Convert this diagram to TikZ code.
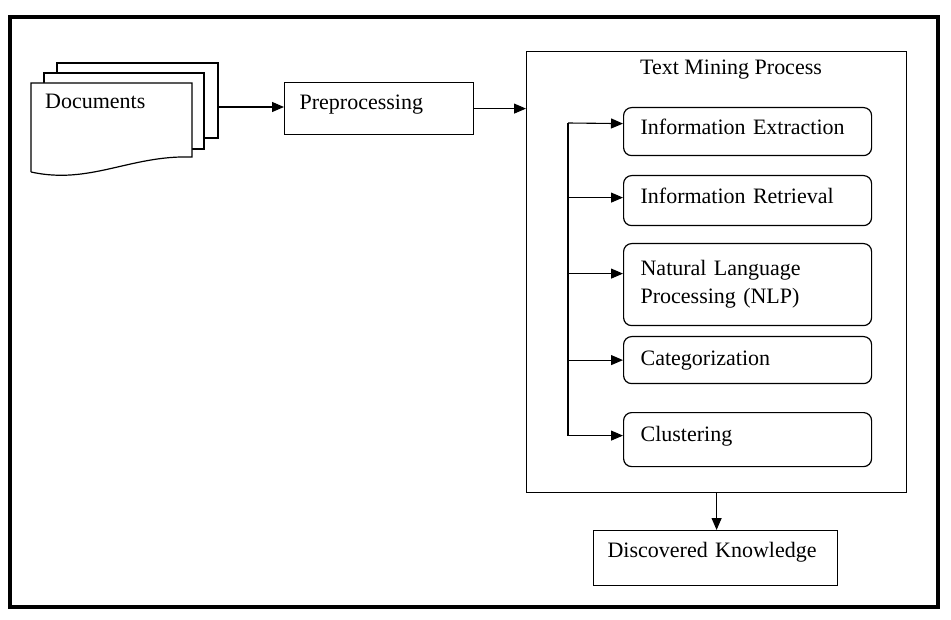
\documentclass[tikz,border=0pt]{standalone}
\usepackage{fontspec}
\setmainfont{Liberation Serif}
\usetikzlibrary{arrows.meta}
\begin{document}
\begin{tikzpicture}[x=1pt,y=-1pt,font=\fontsize{22}{28}\selectfont]
			\tikzstyle{b} = [draw, line width=1.2pt, anchor=north west, inner xsep=15pt, inner ysep=0pt, align=left]
			\tikzstyle{rb} = [b, rounded corners=8pt, inner xsep=17pt, text width=214pt]
			\tikzstyle{arr} = [line width=1.1pt, -{Triangle[length=12pt,width=10pt]}]
			\useasboundingbox (0,0) rectangle (951,620);
			\draw [line width=4pt] (10,17) rectangle (938,607);
			
			% stack of documents
			\draw [line width=1.2pt, fill=white] (57,63) rectangle (218,138);
			\draw [line width=1.2pt, fill=white] (44,73) rectangle (204,149);
			\draw [line width=1.2pt, fill=white] (31,172) -- (31,83) -- (192,83) -- (192,157)
				.. controls (130,155) and (90,185) .. (31,172);
			\node [anchor=west, inner sep=0pt] (docs) at (45,101) {Documents};
			\coordinate (stack) at (218,107);
			
			\node [b, text width=159pt, minimum height=52pt, text depth=12pt] (pre) at (284,82) {Preprocessing};
			\node [draw, line width=1.2pt, anchor=north west, minimum width=380pt, minimum height=441pt] (tmp) at (526,51) {};
			\node (tmptitle) at (731,70) {Text Mining Process};
			
			\node [rb, minimum height=48pt, text depth=10pt] (ie) at (623,107) {Information Extraction};
			\node [rb, minimum height=50pt, text depth=10pt] (ir) at (623,175) {Information Retrieval};
			\node [rb, minimum height=82pt] (nlp) at (623,243) {Natural Language\\Processing (NLP)};
			\node [rb, minimum height=47pt] (cat) at (623,336) {Categorization};
			\node [rb, minimum height=54pt, text depth=12pt] (clu) at (623,412) {Clustering};
			
			\node [b, inner xsep=14pt, text width=216pt, minimum height=55pt, text depth=16pt] (dk) at (593,530) {Discovered Knowledge};
			
			\draw [arr] (stack) -- (stack -| pre.west);
			\draw [arr] (pre.east) -- (pre.east -| tmp.west);
			
			\coordinate (bus) at (568,123);
			\coordinate (ie-in) at ([yshift=8pt]ie.west);
			\coordinate (ir-in) at ([yshift=3pt]ir.west);
			\coordinate (nlp-in) at ([yshift=11pt]nlp.west);
			\coordinate (cat-in) at (cat.west);
			\coordinate (clu-in) at ([yshift=4pt]clu.west);
			
			\draw [arr] (bus) |- (clu-in);
			\draw [arr] (bus) -- (ie-in);
			\draw [arr] (ir-in -| bus) -- (ir-in);
			\draw [arr] (nlp-in -| bus) -- (nlp-in);
			\draw [arr] (cat-in -| bus) -- (cat-in);
			
			\draw [arr] (tmp.south) -- (tmp.south |- dk.north);
			
		\end{tikzpicture}
\end{document}
